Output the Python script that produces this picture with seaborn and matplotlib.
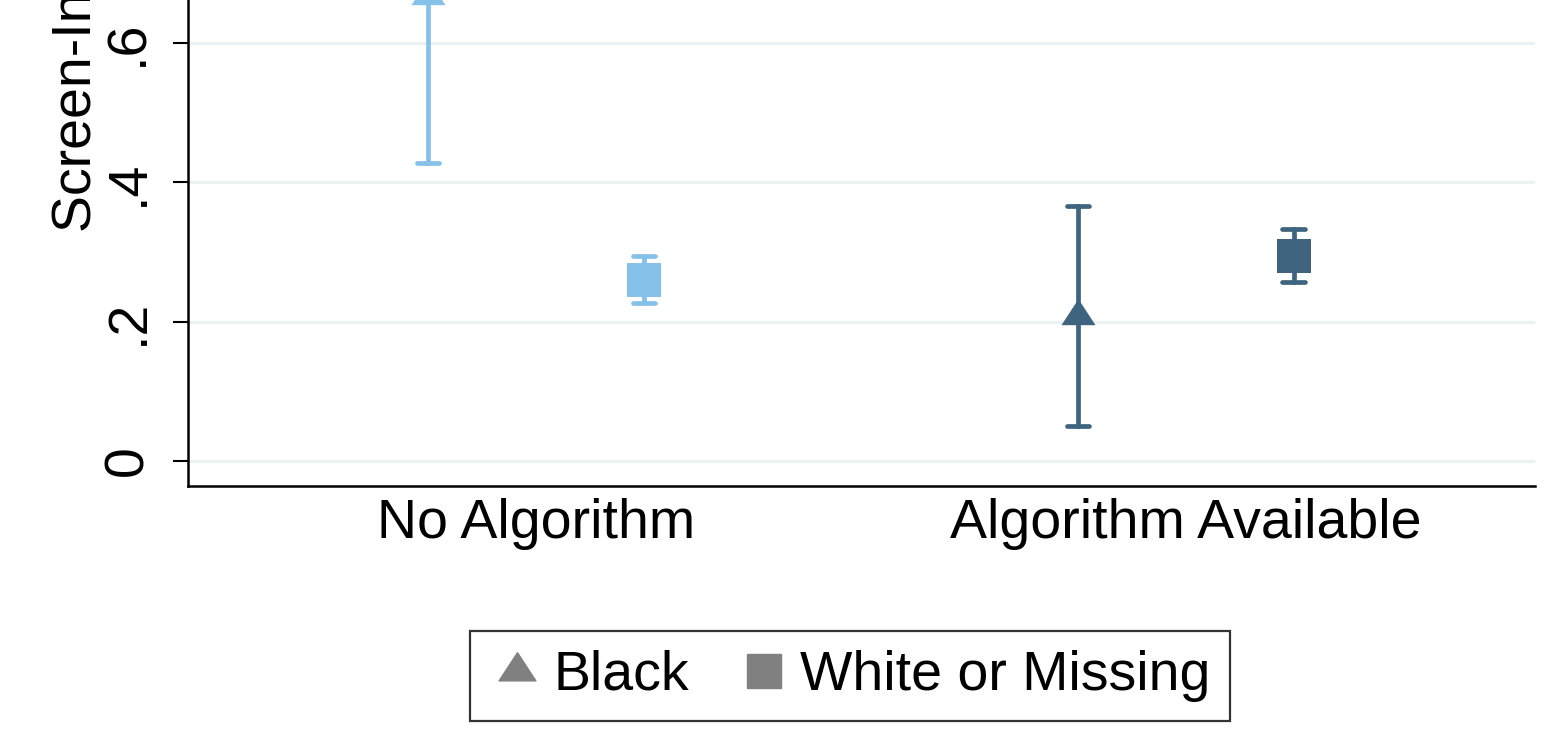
import pandas as pd
import matplotlib.pyplot as plt
import seaborn as sns
from matplotlib.lines import Line2D
from matplotlib.path import Path

# values
groups = ["No Algorithm", "Algorithm Available"]
races = ["Black", "White or Missing"]
group_colors = ["#86c1ea", "#3e6480"]

black_mean = [0.667, 0.208]
black_lo = [0.428, 0.050]
black_hi = [0.906, 0.366]

white_mean = [0.260, 0.294]
white_lo = [0.227, 0.257]
white_hi = [0.294, 0.333]

ytick_vals = [0, 0.2, 0.4, 0.6, 0.8]
ytick_labels = ["0", ".2", ".4", ".6", ".8"]

# long table: lo / mean / hi per cell, median gives the point, min-max the bar
rows = []
for i, g in enumerate(groups):
    for r, (m, lo, hi) in zip(races, [(black_mean, black_lo, black_hi),
                                      (white_mean, white_lo, white_hi)]):
        for v in (lo[i], m[i], hi[i]):
            rows.append({"group": g, "race": r, "rate": v})
df = pd.DataFrame(rows)

sns.set_style("white")
plt.rcParams["font.family"] = ["Liberation Sans", "DejaVu Sans"]
plt.rcParams["text.color"] = "black"
plt.rcParams["xtick.color"] = "black"
plt.rcParams["ytick.color"] = "black"
plt.rcParams["axes.labelcolor"] = "black"

fig = plt.figure(figsize=(15.55, 7.47), dpi=100)
ax = fig.add_axes([188 / 1555, (747 - 486) / 747, 1347 / 1555, 721.5 / 747])

tri = Path([(-1, -0.51), (1, -0.51), (0, 1.02), (-1, -0.51)],
           [Path.MOVETO, Path.LINETO, Path.LINETO, Path.CLOSEPOLY])

for g, c in zip(groups, group_colors):
    sns.pointplot(data=df[df["group"] == g], x="group", y="rate", hue="race",
                  order=groups, hue_order=races,
                  palette={races[0]: c, races[1]: c},
                  estimator="median", errorbar=lambda x: (x.min(), x.max()),
                  markers=[tri, "s"], markersize=25, markeredgewidth=0,
                  linestyle="none", dodge=0.332, capsize=0.035,
                  err_kws={"linewidth": 3.4, "solid_capstyle": "round"},
                  legend=False, ax=ax)

ax.set_xlim(-0.5354, 1.537)
ax.set_ylim(-0.0359, 1.0)
ax.set_yticks(ytick_vals)
ax.set_yticklabels(ytick_labels, rotation=90, va="center")
ax.grid(axis="y", color="#eaf2f3", linewidth=2.2)
ax.set_axisbelow(True)
ax.set_xlabel("")
ax.set_ylabel("")

for s in ["top", "right"]:
    ax.spines[s].set_visible(False)
for s in ["left", "bottom"]:
    ax.spines[s].set_color("black")
    ax.spines[s].set_linewidth(1.8)

ax.tick_params(axis="y", length=11, width=1.5, pad=13, labelsize=40, left=True)
ax.tick_params(axis="x", length=0, pad=9, labelsize=40)

fig.text(92 / 1555, (747 - 232) / 747, "Screen-In Rate", rotation=90,
         rotation_mode="anchor", ha="left", va="baseline", fontsize=40)

handles = [
    Line2D([], [], marker=tri, color="gray", linestyle="none", markersize=27),
    Line2D([], [], marker="s", color="gray", linestyle="none", markersize=24),
]
leg = fig.legend(handles, races, loc="center", ncol=2, fontsize=40,
                 bbox_to_anchor=(850 / 1555, 1 - 676 / 747),
                 frameon=True, fancybox=False, handletextpad=0.15,
                 columnspacing=0.85, borderpad=0.35, handlelength=1.0)
leg.get_frame().set_edgecolor("black")
leg.get_frame().set_linewidth(1.6)

fig.savefig("out.png", dpi=100)
plt.close()
